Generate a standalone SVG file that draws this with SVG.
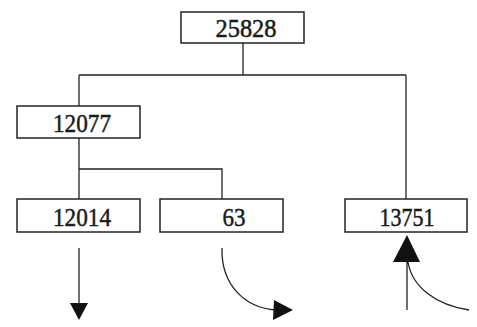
<svg xmlns="http://www.w3.org/2000/svg" width="477" height="327" viewBox="0 0 477 327">
<style>
.box{fill:#fff;stroke:#222;stroke-width:1.5}
.lbl{font-family:"Liberation Serif","Times New Roman",serif;font-size:26px;fill:#1a1a1a;stroke:#1a1a1a;stroke-width:0.5;text-anchor:middle}
.ln{fill:none;stroke:#222;stroke-width:1.3}
.ah{fill:#111}
</style>
<rect width="477" height="327" fill="#fff"/>
<g id="connectors">
<path class="ln" d="M243,43 V75 M79,75 H406 M79,75 V106 M406,75 V199"/>
<path class="ln" d="M79,138 V199 M79,169 H222 V199"/>
<path class="ln" d="M79,248 V304"/>
<polygon class="ah" points="70,303 88,303 79,320"/>
<path class="ln" d="M222,248 C221,285 245,308 276,310"/>
<polygon class="ah" points="274,300 293,310 273,320"/>
<path class="ln" d="M407,262 V310 M469,310 C436,305 412,287 408,262"/>
<polygon class="ah" points="407,235 420,262 393,262"/>
</g>
<g id="n25828"><rect class="box" x="181" y="12" width="123" height="31"/><text class="lbl" x="246" y="37" textLength="61" lengthAdjust="spacingAndGlyphs">25828</text></g>
<g id="n12077"><rect class="box" x="17" y="106" width="123" height="32"/><text class="lbl" x="82" y="132" textLength="58" lengthAdjust="spacingAndGlyphs">12077</text></g>
<g id="n12014"><rect class="box" x="17" y="199" width="123" height="33"/><text class="lbl" x="82" y="226" textLength="58" lengthAdjust="spacingAndGlyphs">12014</text></g>
<g id="n63"><rect class="box" x="160" y="199" width="123" height="33"/><text class="lbl" x="234" y="226" textLength="23" lengthAdjust="spacingAndGlyphs">63</text></g>
<g id="n13751"><rect class="box" x="345" y="199" width="122" height="33"/><text class="lbl" x="407" y="226" textLength="55" lengthAdjust="spacingAndGlyphs">13751</text></g>
</svg>
